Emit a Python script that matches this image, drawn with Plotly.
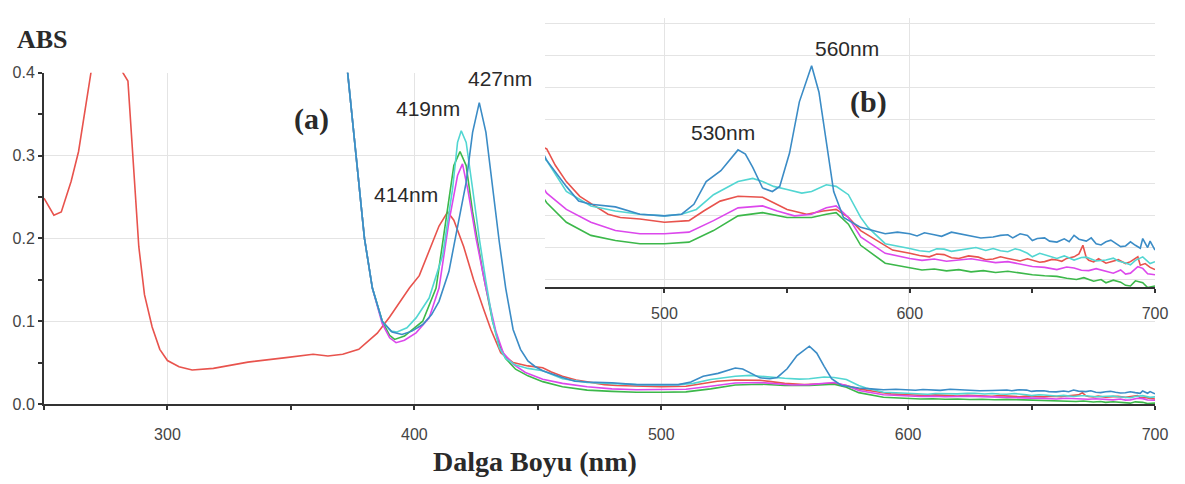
import plotly.graph_objects as go

# ---------------- data ----------------
red_wl = [250, 254, 257, 261, 264, 267, 269, 272, 275, 279, 282, 284, 286, 288.4, 290.7, 293.8,
          296.9, 300, 304.7, 310, 318.6, 332.6, 348, 359, 365, 371, 377.5, 381, 385, 390, 394.6,
          398, 402, 406, 410, 413.5, 416, 420, 424, 428, 431, 435, 440, 446, 452, 455.5, 460,
          465.5, 470.6, 477, 482, 490, 500, 510, 516, 522.7, 530, 540, 544.5, 550, 558, 564.7,
          570, 575, 580, 586.6, 593, 600, 604, 608, 611, 614, 617, 620, 624, 628, 631, 634, 637,
          640, 643, 645, 648, 650, 653, 655, 658, 660, 662, 664, 667, 669, 670.6, 672, 673, 675,
          677, 680, 683, 685, 688, 690, 693, 694, 696, 698, 700]
red_abs = [0.2485, 0.228, 0.232, 0.269, 0.305, 0.362, 0.40, 0.44, 0.45, 0.44, 0.40, 0.39, 0.30,
           0.19, 0.132, 0.093, 0.066, 0.0525, 0.045, 0.041, 0.043, 0.0506, 0.056, 0.060, 0.058,
           0.060, 0.066, 0.075, 0.0856, 0.105, 0.1245, 0.14, 0.155, 0.185, 0.215, 0.232, 0.222,
           0.19, 0.15, 0.115, 0.09, 0.062, 0.05, 0.046, 0.0438, 0.0387, 0.0336, 0.029, 0.0265,
           0.0234, 0.0224, 0.0219, 0.0209, 0.0214, 0.0244, 0.0275, 0.0290, 0.0287, 0.0270,
           0.0249, 0.0234, 0.0244, 0.0249, 0.0224, 0.0183, 0.0152, 0.0122, 0.0112, 0.0105,
           0.0101, 0.0110, 0.0108, 0.0098, 0.0096, 0.0104, 0.0100, 0.0092, 0.0094, 0.0101,
           0.0096, 0.0090, 0.0088, 0.0095, 0.0091, 0.0084, 0.0086, 0.0093, 0.0091, 0.0087,
           0.0096, 0.0101, 0.0110, 0.0137, 0.0098, 0.0090, 0.0085, 0.0095, 0.0081, 0.0089,
           0.0092, 0.0080, 0.0086, 0.0101, 0.0075, 0.0080, 0.0068, 0.0061]

blue_wl = [365, 370, 373, 376.4, 379.8, 383, 387, 391, 395, 399, 403.4, 407, 410, 414, 418, 421,
           423.6, 426.3, 429, 431.7, 434.4, 437, 440, 443, 446, 449, 452, 460, 465, 470, 480, 490,
           500, 507, 512, 517, 523, 530, 533, 536, 540, 544, 547, 551, 555, 560, 563, 566, 569,
           573, 580, 585, 590, 595, 600, 603, 606, 610, 613, 617, 621, 625, 629, 634, 637, 640,
           642, 645, 648, 650, 652, 655, 657, 660, 663, 665, 667, 669, 672, 674, 676, 678, 680,
           682, 684, 686, 688, 690, 692, 694, 695, 697, 698, 700]
blue_abs = [0.55, 0.47, 0.40, 0.30, 0.20, 0.14, 0.10, 0.087, 0.084, 0.088, 0.096, 0.108, 0.124,
            0.16, 0.22, 0.268, 0.328, 0.364, 0.328, 0.26, 0.196, 0.14, 0.09, 0.066, 0.052, 0.045,
            0.0402, 0.0321, 0.0275, 0.0265, 0.0257, 0.0234, 0.0229, 0.0234, 0.0265, 0.0336,
            0.0370, 0.0435, 0.0422, 0.0380, 0.0316, 0.0305, 0.0321, 0.0425, 0.0585, 0.0698,
            0.0615, 0.0455, 0.0305, 0.0224, 0.0193, 0.0183, 0.0173, 0.0178, 0.0173, 0.0166,
            0.0176, 0.0170, 0.0165, 0.0178, 0.0172, 0.0165, 0.0160, 0.0163, 0.0168, 0.0170,
            0.0160, 0.0173, 0.0168, 0.0152, 0.0158, 0.0160, 0.0150, 0.0147, 0.0157, 0.0148,
            0.0168, 0.0156, 0.0150, 0.0160, 0.0142, 0.0138, 0.0148, 0.0153, 0.0142, 0.0133,
            0.0135, 0.0148, 0.0137, 0.0128, 0.0158, 0.0130, 0.0150, 0.0122]

cyan_wl = [365, 370, 373, 376.4, 379.8, 383, 387, 390.5, 393, 397, 400.7, 406, 411.5, 415.5,
           417.5, 419, 421, 423.6, 426.3, 429, 431.7, 434.4, 437, 441, 446, 452, 460, 470, 480,
           490, 500, 507, 513, 520, 530, 536, 540, 544.5, 550, 556, 560, 566, 570, 575, 580, 583,
           590, 595, 600, 604, 608, 611, 614, 617, 620, 624, 627, 631, 634, 637, 640, 643, 645,
           648, 650, 653, 655, 658, 660, 663, 667, 670, 672, 676, 680, 683, 685, 688, 690, 692,
           695, 698, 700]
cyan_abs = [0.55, 0.47, 0.40, 0.30, 0.20, 0.14, 0.10, 0.088, 0.087, 0.092, 0.104, 0.128, 0.18,
            0.26, 0.316, 0.330, 0.316, 0.26, 0.20, 0.148, 0.10, 0.068, 0.055, 0.047, 0.043,
            0.0402, 0.0305, 0.0260, 0.0244, 0.0234, 0.0229, 0.0234, 0.0249, 0.0295, 0.0336,
            0.0346, 0.0336, 0.0321, 0.0311, 0.0300, 0.0305, 0.0326, 0.0321, 0.0295, 0.0224,
            0.0193, 0.0142, 0.0135, 0.0127, 0.0120, 0.0117, 0.0126, 0.0125, 0.0118, 0.0122,
            0.0128, 0.0130, 0.0121, 0.0127, 0.0120, 0.0117, 0.0126, 0.0122, 0.0112, 0.0101,
            0.0112, 0.0108, 0.0100, 0.0096, 0.0104, 0.0091, 0.0099, 0.0100, 0.0088, 0.0091,
            0.0097, 0.0088, 0.0082, 0.0076, 0.0090, 0.0101, 0.0080, 0.0086]

magenta_wl = [365, 370, 373, 376.4, 379.8, 383, 387, 390, 392.6, 396, 400.7, 406, 410, 414,
              417.5, 419.5, 421.6, 425, 429, 433, 436, 440, 445, 452, 460, 470, 480, 490, 500,
              510, 520, 530, 540, 546, 553, 560, 566, 570, 575, 580, 590, 600, 605, 610, 615, 620,
              625, 630, 635, 640, 645, 650, 655, 660, 664, 667, 670, 673, 676, 680, 683, 686, 688,
              690, 693, 695, 697, 700]
magenta_abs = [0.55, 0.47, 0.40, 0.30, 0.20, 0.14, 0.097, 0.08, 0.074, 0.077, 0.086, 0.104, 0.14,
               0.22, 0.276, 0.29, 0.26, 0.20, 0.14, 0.088, 0.062, 0.048, 0.038, 0.0300, 0.0249,
               0.0209, 0.0183, 0.0173, 0.0173, 0.0178, 0.0214, 0.0254, 0.0260, 0.0244, 0.0229,
               0.0234, 0.0254, 0.0260, 0.0224, 0.0163, 0.0112, 0.0096, 0.0090, 0.0094, 0.0087,
               0.0091, 0.0095, 0.0089, 0.0083, 0.0086, 0.0079, 0.0071, 0.0068, 0.0061, 0.0069,
               0.0066, 0.0059, 0.0058, 0.0064, 0.0056, 0.0050, 0.0060, 0.0047, 0.0050, 0.0070,
               0.0065, 0.0048, 0.0045]

green_wl = [365, 370, 373, 376.4, 379.8, 383, 387, 390, 392, 396, 403.4, 408.8, 412.8, 416,
            418.5, 421, 423.6, 427.7, 431.7, 434.4, 437, 441, 446, 452, 460, 470, 480, 490, 500,
            510, 520, 530, 540, 550, 560, 566, 570, 575, 580, 590, 600, 605, 610, 615, 620, 625,
            630, 635, 640, 645, 650, 655, 660, 664, 668, 671, 675, 678, 680, 683, 686, 688, 690,
            692, 695, 697, 700]
green_abs = [0.55, 0.47, 0.40, 0.30, 0.20, 0.14, 0.10, 0.083, 0.078, 0.082, 0.10, 0.14, 0.22,
             0.288, 0.305, 0.288, 0.232, 0.16, 0.10, 0.072, 0.055, 0.042, 0.034, 0.0270, 0.0209,
             0.0168, 0.0152, 0.0142, 0.0142, 0.0147, 0.0183, 0.0229, 0.0239, 0.0224, 0.0224,
             0.0234, 0.0239, 0.0203, 0.0137, 0.0081, 0.0066, 0.0060, 0.0063, 0.0057, 0.0061,
             0.0054, 0.0058, 0.0052, 0.0056, 0.0050, 0.0045, 0.0042, 0.0040, 0.0034, 0.0030,
             0.0036, 0.0025, 0.0030, 0.0020, 0.0028, 0.0022, 0.0012, 0.0010, 0.0026, 0.0020,
             0.0005, 0.0010]

series = [
    ("red", red_wl, red_abs, "#e8534d"),
    ("green", green_wl, green_abs, "#3cb84a"),
    ("magenta", magenta_wl, magenta_abs, "#dc48ec"),
    ("cyan", cyan_wl, cyan_abs, "#52d6d2"),
    ("blue", blue_wl, blue_abs, "#3b8cc6"),
]

main_ticks = [300, 400, 500, 600, 700]
inset_ticks = [500, 600, 700]
main_ytick = [0.0, 0.1, 0.2, 0.3, 0.4]
peak_labels = ["414nm", "419nm", "427nm", "530nm", "560nm"]

# ---------------- layout geometry ----------------
W, H = 1185, 484
L, R, T, B = 44, 30, 8, 80
PW, PH = W - L - R, H - T - B


def px(x):
    return (x - L) / PW


def py(y):
    return (H - B - y) / PH


fig = go.Figure()
for name, wl, ab, col in series:
    fig.add_trace(go.Scatter(x=wl, y=ab, mode="lines", name=name,
                             line=dict(color=col, width=1.6), xaxis="x", yaxis="y",
                             showlegend=False))
for name, wl, ab, col in series:
    fig.add_trace(go.Scatter(x=wl, y=ab, mode="lines", name=name,
                             line=dict(color=col, width=1.6), xaxis="x2", yaxis="y2",
                             showlegend=False))

tickfont = dict(family="Liberation Sans, Arial", size=16, color="#444")
grid = "#e4e4e4"
axc = "#333"

fig.update_layout(
    width=W, height=H,
    margin=dict(l=L, r=R, t=T, b=B, pad=0),
    paper_bgcolor="white", plot_bgcolor="white",
    xaxis=dict(domain=[0, 1], range=[250, 700], tickvals=main_ticks,
               ticktext=[str(v) for v in main_ticks], showgrid=True, gridcolor=grid,
               gridwidth=1, showline=True, linecolor=axc, linewidth=2, ticks="outside",
               ticklen=4, tickwidth=2, tickcolor=axc, tickfont=tickfont,
               ticklabelstandoff=11, zeroline=False,
               minor=dict(dtick=50, tick0=0, ticks="outside", ticklen=4, tickwidth=2,
                          tickcolor=axc, showgrid=False)),
    yaxis=dict(domain=[0, py(66)], range=[0, 0.4], tickvals=main_ytick,
               ticktext=["%.1f" % v for v in main_ytick], showgrid=True, gridcolor=grid,
               gridwidth=1, showline=True, linecolor=axc, linewidth=2, ticks="outside",
               ticklen=4, tickwidth=2, tickcolor=axc, tickfont=tickfont, zeroline=False,
               minor=dict(dtick=0.05, tick0=0, ticks="outside", ticklen=4, tickwidth=2,
                          tickcolor=axc, showgrid=False)),
    xaxis2=dict(domain=[px(545), 1], range=[451.3, 700], anchor="y2", tickvals=inset_ticks,
                ticktext=[str(v) for v in inset_ticks], showgrid=True, gridcolor=grid,
                gridwidth=1, showline=True, linecolor=axc, linewidth=2, ticks="outside",
                ticklen=4, tickwidth=2, tickcolor=axc, tickfont=tickfont, ticklabelstandoff=6,
                zeroline=False,
                minor=dict(dtick=50, tick0=0, ticks="outside", ticklen=4, tickwidth=2,
                           tickcolor=axc, showgrid=False)),
    yaxis2=dict(domain=[py(285), py(10)], range=[0.00055, 0.0847], anchor="x2",
                tick0=0.003, dtick=0.01, showgrid=True, gridcolor=grid, gridwidth=1,
                showline=False, showticklabels=False, ticks="", zeroline=False),
)

serif = "Liberation Serif, Times New Roman, serif"
sans = "Liberation Sans, Arial, sans-serif"
ann = [
    ("ABS", 42, 32, serif, 26, True),
    ("(a)", 311, 113, serif, 30, True),
    ("(b)", 868, 96, serif, 30, True),
    ("Dalga Boyu (nm)", 535, 463, serif, 28, True),
    (peak_labels[0], 406, 190, sans, 21, False),
    (peak_labels[1], 428, 102, sans, 21, False),
    (peak_labels[2], 500, 72, sans, 21, False),
    (peak_labels[3], 723, 127, sans, 21, False),
    (peak_labels[4], 847, 41, sans, 21, False),
]
for text, x, y, fam, size, bold in ann:
    fig.add_annotation(text="<b>%s</b>" % text if bold else text, x=px(x), y=py(y),
                       xref="paper", yref="paper", showarrow=False, xanchor="center",
                       yanchor="middle", font=dict(family=fam, size=size, color="#2a2a2a"))

fig.write_html("out.html", config={"displayModeBar": False},
               post_script="document.body.style.margin='0';")
